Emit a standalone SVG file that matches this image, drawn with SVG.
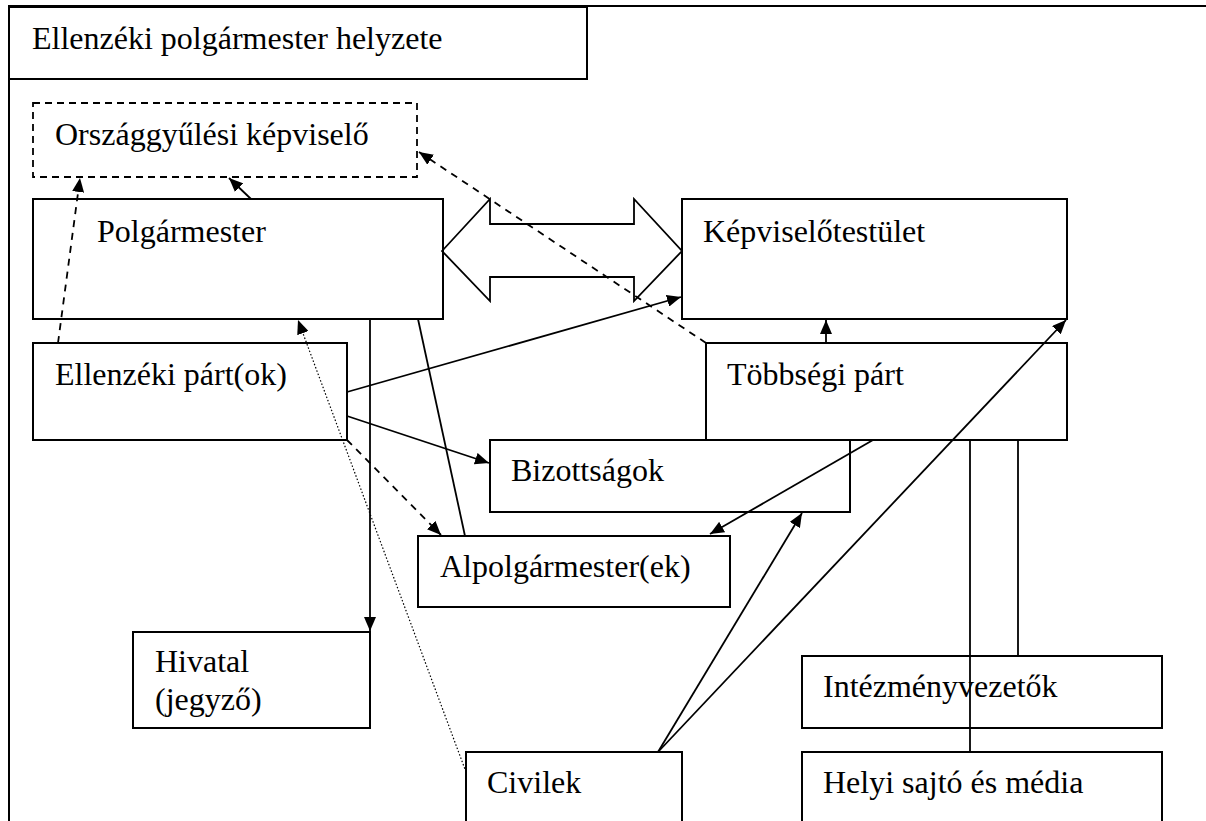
<svg xmlns="http://www.w3.org/2000/svg" width="1206" height="821" viewBox="0 0 1206 821">
<style>
.box{fill:none;stroke:#000;stroke-width:2}
.dbox{fill:none;stroke:#000;stroke-width:1.8;stroke-dasharray:7,5}
.t{font-family:"Liberation Serif","Times New Roman",serif;font-size:32px;fill:#000}
.ln{fill:none;stroke:#000;stroke-width:1.8}
.dash{stroke-dasharray:7,6}
.dot{stroke-width:1.2;stroke-dasharray:1.5,2}
</style>
<defs>
<marker id="ah" viewBox="0 0 14 12" refX="14" refY="6" markerWidth="14" markerHeight="12" markerUnits="userSpaceOnUse" orient="auto">
<path d="M0,0 L14,6 L0,12 z" fill="#000"/>
</marker>
</defs>
<rect width="1206" height="821" fill="#fff"/>
<g id="frame">
<path class="box" d="M9,821 V6 H1206"/>
</g>
<g id="title"><rect class="box" x="9" y="7" width="578" height="72"/><text class="t" x="32" y="49">Ellenzéki polgármester helyzete</text></g>
<g id="orszaggyulesi"><rect class="dbox" x="33" y="103" width="384" height="74"/><text class="t" x="55" y="145">Országgyűlési képviselő</text></g>
<g id="polgarmester"><rect class="box" x="33" y="199" width="410" height="120"/><text class="t" x="97" y="242">Polgármester</text></g>
<g id="kepviselotestulet"><rect class="box" x="682" y="199" width="385" height="120"/><text class="t" x="703" y="242">Képviselőtestület</text></g>
<g id="ellenzeki"><rect class="box" x="33" y="343" width="314" height="97"/><text class="t" x="55" y="385">Ellenzéki párt(ok)</text></g>
<g id="tobbsegi"><rect class="box" x="706" y="343" width="361" height="97"/><text class="t" x="727" y="385">Többségi párt</text></g>
<g id="bizottsagok"><rect class="box" x="490" y="440" width="360" height="72"/><text class="t" x="511" y="481">Bizottságok</text></g>
<g id="alpolgarmester"><rect class="box" x="418" y="536" width="312" height="71"/><text class="t" x="440" y="577">Alpolgármester(ek)</text></g>
<g id="hivatal"><rect class="box" x="133" y="632" width="237" height="96"/><text class="t" x="155" y="672">Hivatal</text><text class="t" x="155" y="710">(jegyző)</text></g>
<g id="intezmenyvezetok"><rect class="box" x="802" y="656" width="360" height="72"/><text class="t" x="823" y="697">Intézményvezetők</text></g>
<g id="civilek"><rect class="box" x="466" y="752" width="216" height="80"/><text class="t" x="487" y="793">Civilek</text></g>
<g id="sajto"><rect class="box" x="802" y="752" width="360" height="80"/><text class="t" x="823" y="793">Helyi sajtó és média</text></g>
<g id="connectors">
<polygon class="ln" points="442,251 490,199 490,224 634,224 634,199 682,251 634,301 634,277 490,277 490,301"/>
<line class="ln" x1="251" y1="199" x2="229" y2="178" marker-end="url(#ah)"/>
<line class="ln dash" x1="58" y1="343" x2="80" y2="178" marker-end="url(#ah)"/>
<line class="ln dash" x1="706" y1="343" x2="419" y2="152" marker-end="url(#ah)"/>
<line class="ln" x1="826" y1="343" x2="826" y2="320" marker-end="url(#ah)"/>
<line class="ln" x1="347" y1="392" x2="681" y2="297" marker-end="url(#ah)"/>
<line class="ln" x1="347" y1="416" x2="489" y2="463" marker-end="url(#ah)"/>
<line class="ln dash" x1="347" y1="440" x2="441" y2="535" marker-end="url(#ah)"/>
<line class="ln dot" x1="466" y1="772" x2="298" y2="320" marker-end="url(#ah)"/>
<line class="ln" x1="370" y1="319" x2="370" y2="631" marker-end="url(#ah)"/>
<line class="ln" x1="418" y1="319" x2="465" y2="536"/>
<line class="ln" x1="873" y1="440" x2="710" y2="534" marker-end="url(#ah)"/>
<line class="ln" x1="658" y1="752" x2="802" y2="513" marker-end="url(#ah)"/>
<line class="ln" x1="658" y1="752" x2="1066" y2="320" marker-end="url(#ah)"/>
<line class="ln" x1="970" y1="440" x2="970" y2="752"/>
<line class="ln" x1="1018" y1="440" x2="1018" y2="656"/>
</g>
</svg>
